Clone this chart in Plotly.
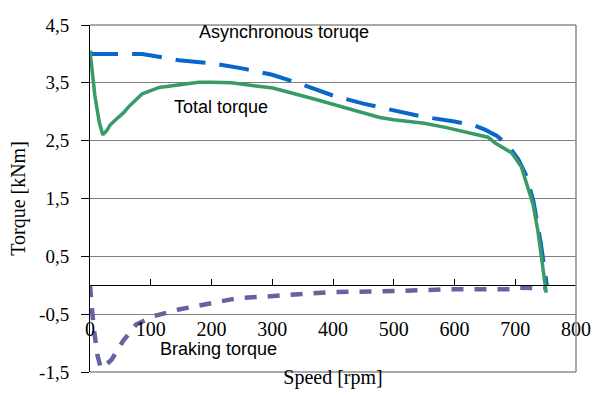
import plotly.graph_objects as go

# ---- data ----
speed_async = [0, 2, 10, 50, 86, 146, 200, 250, 300, 341, 400, 450, 500, 545, 600,
               634, 650, 670, 688, 705, 718, 730, 742, 748, 752]
torque_async = [4.05, 4.0, 4.0, 4.0, 4.0, 3.89, 3.84, 3.75, 3.64, 3.50, 3.28, 3.14, 3.02,
                2.92, 2.83, 2.76, 2.69, 2.58, 2.42, 2.18, 1.90, 1.45, 0.73, 0.30, 0.0]

speed_total = [0, 4, 8, 15, 21, 28, 33, 44, 55, 65, 86, 114, 146, 179, 200, 233, 270, 301,
               369, 420, 477, 500, 550, 585, 634, 655, 667, 694, 710, 718, 729, 737, 745, 751]
torque_total = [4.05, 3.6, 3.28, 2.83, 2.6, 2.68, 2.77, 2.88, 2.98, 3.1, 3.31, 3.42, 3.46,
                3.51, 3.51, 3.5, 3.45, 3.41, 3.22, 3.07, 2.9, 2.86, 2.8, 2.73, 2.6, 2.56,
                2.46, 2.29, 2.05, 1.78, 1.41, 0.96, 0.39, -0.13]

speed_brake = [0, 1, 2, 4, 7, 12, 17, 20, 36, 54, 76, 103, 146, 200, 244, 282, 341, 395,
               504, 585, 694, 704, 737, 750]
torque_brake = [0, -0.2, -0.33, -0.5, -0.8, -1.2, -1.4, -1.44, -1.28, -0.97, -0.68, -0.54,
                -0.42, -0.3, -0.22, -0.2, -0.15, -0.12, -0.1, -0.07, -0.07, -0.04, -0.05, -0.05]

y_tickvals = [-1.5, -0.5, 0.5, 1.5, 2.5, 3.5, 4.5]
y_ticktext = ["-1,5", "-0,5", "0,5", "1,5", "2,5", "3,5", "4,5"]
x_tickvals = [0, 100, 200, 300, 400, 500, 600, 700, 800]

labels = [
    ("Asynchronous toruqe", 320, 4.38),
    ("Total torque", 215, 3.09),
    ("Braking torque", 212, -1.1),
]

BLUE = "#0A66CC"
GREEN = "#389B66"
PURPLE = "#6464A0"

fig = go.Figure()
fig.add_trace(go.Scatter(x=speed_async, y=torque_async, mode="lines",
                         line=dict(color=BLUE, width=4, dash="30px,14px"),
                         showlegend=False))
fig.add_trace(go.Scatter(x=speed_brake, y=torque_brake, mode="lines",
                         line=dict(color=PURPLE, width=4.5, dash="12px,11px"),
                         showlegend=False))
fig.add_trace(go.Scatter(x=speed_total, y=torque_total, mode="lines",
                         line=dict(color=GREEN, width=3.5),
                         showlegend=False))

serif = "Liberation Serif, Times New Roman, serif"
sans = "Liberation Sans, Arial, sans-serif"

fig.update_layout(
    width=603, height=396,
    margin=dict(l=90, r=21, t=25, b=19),
    paper_bgcolor="white", plot_bgcolor="white",
    xaxis=dict(range=[0, 800], tickvals=x_tickvals, anchor="free", position=0.25,
               showline=True, linecolor="black", linewidth=1,
               ticks="inside", ticklen=6, tickcolor="black",
               showgrid=False, zeroline=False,
               ticklabelstandoff=26,
               tickfont=dict(family=serif, size=20, color="black"),
               title=dict(text="Speed [rpm]", standoff=30,
                          font=dict(family=serif, size=20, color="black"))),
    yaxis=dict(range=[-1.5, 4.5], tickvals=y_tickvals, ticktext=y_ticktext,
               showline=True, linecolor="black", linewidth=1,
               ticks="outside", ticklen=8, tickcolor="black",
               showgrid=True, gridcolor="#7f7f7f", gridwidth=1,
               zeroline=False, ticklabelstandoff=8,
               tickfont=dict(family=serif, size=19, color="black"),
               title=dict(text="Torque [kNm]", standoff=8,
                          font=dict(family=serif, size=20, color="black"))),
    shapes=[
        dict(type="line", xref="paper", yref="paper", x0=1, x1=1, y0=0, y1=1,
             line=dict(color="#8c8c8c", width=1.5)),
        dict(type="line", xref="paper", yref="paper", x0=0, x1=1, y0=0, y1=0,
             line=dict(color="#8c8c8c", width=1.5)),
        dict(type="line", xref="paper", yref="paper", x0=0, x1=1, y0=1, y1=1,
             line=dict(color="#555555", width=1)),
    ],
)

for text, x, y in labels:
    fig.add_annotation(x=x, y=y, text=text, showarrow=False,
                       font=dict(family=sans, size=18, color="black"))

fig.write_html("out.html")
